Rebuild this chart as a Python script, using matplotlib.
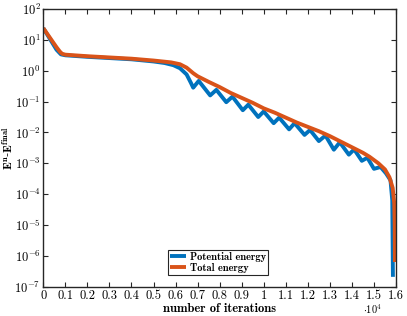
import matplotlib
matplotlib.use('Agg')
import matplotlib.pyplot as plt
import numpy as np

# iterations / energy gap values
iters_total = [0, 300, 600, 750, 850, 1000, 2000, 3000, 4000, 5000, 5800, 6200,
               6500, 6800, 7000, 7500, 8000, 8500, 9000, 9500, 10000, 10500,
               11000, 11500, 12000, 12500, 13000, 13500, 14000, 14500, 14800,
               15200, 15500, 15700, 15850, 15920, 15940, 15950]
log_total = [1.38, 1.07, 0.76, 0.62, 0.55, 0.52, 0.47, 0.43, 0.39, 0.33, 0.27, 0.21,
             0.10, -0.08, -0.18, -0.36, -0.53, -0.72, -0.88, -1.04, -1.22, -1.36,
             -1.52, -1.68, -1.82, -1.96, -2.12, -2.30, -2.48, -2.66, -2.79,
             -3.00, -3.20, -3.45, -3.80, -4.30, -5.00, -6.20]

iters_pot = [0, 300, 600, 800, 1000, 2000, 3000, 4000, 5000, 5500, 5900, 6200,
             6500, 6700, 6800, 7050, 7570, 7850, 8300, 8580, 9050, 9300, 9750,
             10000, 10450, 10700, 11150, 11400, 11850, 12100, 12500, 12800,
             13180, 13450, 13860, 14100, 14450, 14700, 15000, 15300, 15550,
             15750, 15830, 15860]
log_pot = [1.38, 1.03, 0.68, 0.53, 0.50, 0.45, 0.41, 0.37, 0.30, 0.25, 0.18, 0.08,
           -0.12, -0.40, -0.55, -0.33, -0.80, -0.62, -1.02, -0.84, -1.28, -1.10, -1.50,
           -1.32, -1.70, -1.52, -1.90, -1.70, -2.08, -1.92, -2.28, -2.10,
           -2.56, -2.32, -2.72, -2.55, -2.92, -2.82, -3.18, -3.12, -3.33,
           -3.55, -4.20, -6.68]

xticks = [0, 1000, 2000, 3000, 4000, 5000, 6000, 7000, 8000, 9000, 10000,
          11000, 12000, 13000, 14000, 15000, 16000]
xticklabels = ['0', '0.1', '0.2', '0.3', '0.4', '0.5', '0.6', '0.7', '0.8', '0.9',
               '1', '1.1', '1.2', '1.3', '1.4', '1.5', '1.6']

plt.rcParams['font.family'] = 'serif'
plt.rcParams['font.serif'] = ['cmr10']
plt.rcParams['mathtext.fontset'] = 'cm'
plt.rcParams['axes.formatter.use_mathtext'] = True

blue = '#0072BD'
orange = '#D95319'

fig = plt.figure(figsize=(4.07, 3.16), dpi=100)
ax = fig.add_axes([0.1064, 0.0927, 0.8666, 0.8788])

ax.semilogy(iters_pot, 10.0 ** np.array(log_pot), color=blue, lw=2.8,
            solid_joinstyle='round', solid_capstyle='butt',
            label='Potential energy')
ax.semilogy(iters_total, 10.0 ** np.array(log_total), color=orange, lw=2.8,
            solid_joinstyle='round', solid_capstyle='butt',
            label='Total energy')

ax.set_xlim(0, 16000)
ax.set_ylim(1e-7, 1e2)
ax.set_yticks([10.0 ** k for k in range(-7, 3)])
ax.set_xticks(xticks)
ax.set_xticklabels(xticklabels)

ax.tick_params(which='both', direction='in', top=True, right=True,
               labelsize=9, color='#262626')
ax.tick_params(which='major', length=3.5)
ax.tick_params(which='minor', length=2)
ax.tick_params(axis='x', pad=2)
ax.tick_params(axis='y', pad=2)
for s in ax.spines.values():
    s.set_linewidth(1.0)
    s.set_color('#262626')

ax.set_xlabel('number of iterations', fontsize=9, fontfamily='cmb10', labelpad=1)
ax.set_ylabel(r'$\mathbf{E}^{\mathbf{n}}$-$\mathbf{E}^{\mathbf{final}}$',
              fontsize=8.5, fontfamily='DejaVu Serif')
ax.yaxis.set_label_coords(-0.079, 0.5)
ax.text(0.905, -0.082, r'$\cdot 10^4$', transform=ax.transAxes, fontsize=7.5,
        va='center', ha='left')

leg = ax.legend(loc='lower left', bbox_to_anchor=(0.353, 0.043),
                prop={'family': 'cmb10', 'size': 7.5},
                fancybox=False, framealpha=1, edgecolor='#262626',
                handlelength=1.5, handletextpad=0.4, borderpad=0.2,
                labelspacing=0.1, borderaxespad=0)
leg.get_frame().set_linewidth(0.8)

fig.savefig('out.png', dpi=100)
